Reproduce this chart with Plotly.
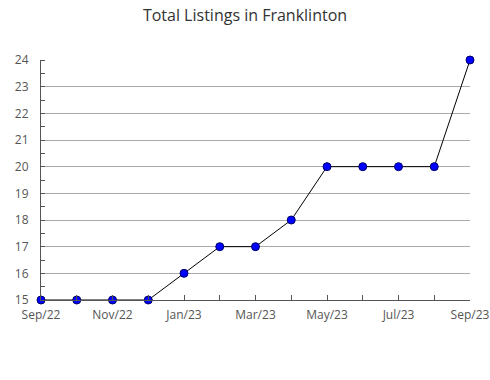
import plotly.graph_objects as go

months = ["Sep/22", "Oct/22", "Nov/22", "Dec/22", "Jan/23", "Feb/23", "Mar/23",
          "Apr/23", "May/23", "Jun/23", "Jul/23", "Aug/23", "Sep/23"]
listings = [15, 15, 15, 15, 16, 17, 17, 18, 20, 20, 20, 20, 24]
y_ticks = [15, 16, 17, 18, 19, 20, 21, 22, 23, 24]

idx = list(range(len(months)))
tick_text = [m if i % 2 == 0 else "" for i, m in enumerate(months)]

fig = go.Figure()
fig.add_trace(go.Scatter(
    x=idx, y=listings, mode="lines+markers",
    line=dict(color="black", width=1),
    marker=dict(symbol="circle", size=8, color="#0000ff",
                line=dict(color="#000066", width=1)),
    cliponaxis=False, showlegend=False,
))

font = "Open Sans, DejaVu Sans, sans-serif"
fig.update_layout(
    width=490, height=380,
    margin=dict(l=41, r=20, t=60, b=80, autoexpand=False),
    paper_bgcolor="white", plot_bgcolor="white",
    title=dict(text="Total Listings in Franklinton", x=0.5, xanchor="center",
               y=0.96, yanchor="middle",
               font=dict(family=font, size=16, color="#333333")),
    font=dict(family=font, size=12, color="#555555"),
)
fig.update_xaxes(
    range=[0, 12], tickvals=idx, ticktext=tick_text,
    ticks="inside", ticklen=5, tickcolor="#555555",
    showgrid=False, showline=True, linecolor="#555555", linewidth=1,
    zeroline=False, tickfont=dict(size=12, color="#555555"),
    ticklabelstandoff=4, automargin=False,
)
fig.update_yaxes(
    range=[15, 24], tickvals=y_ticks,
    ticks="", showgrid=True, gridcolor="#aaaaaa", gridwidth=1,
    showline=True, linecolor="#555555", linewidth=1, zeroline=False,
    minor=dict(ticks="inside", ticklen=4, dtick=0.5, tick0=15, tickcolor="#555555",
               showgrid=False),
    tickfont=dict(size=12, color="#555555"),
    ticklabelstandoff=9, automargin=False,
)

fig.write_html("out.html")
